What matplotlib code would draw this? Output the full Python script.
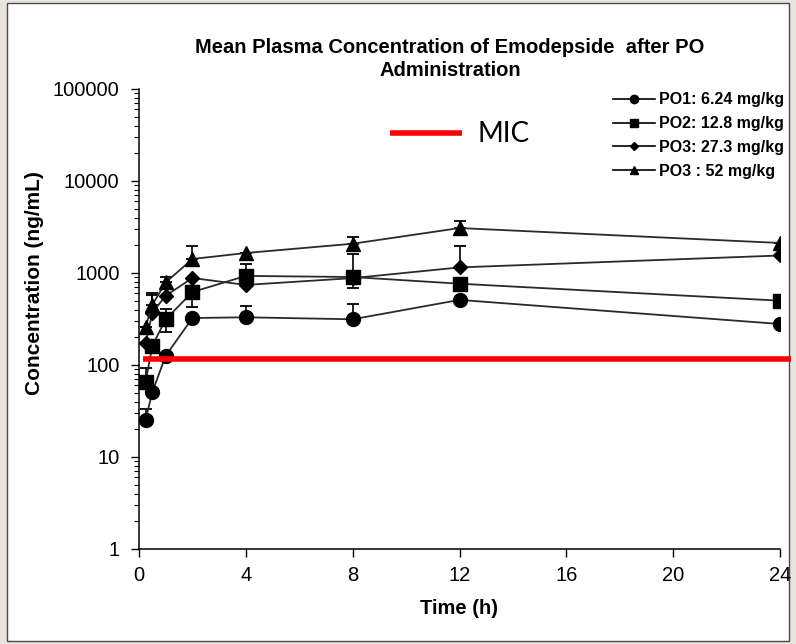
import matplotlib
matplotlib.use("Agg")
import matplotlib.pyplot as plt
from matplotlib.patches import Rectangle
from matplotlib.lines import Line2D
import numpy as np

plt.rcParams['font.family'] = ['Liberation Sans', 'DejaVu Sans']

# ---------------- data ----------------
time_h = [0.25, 0.5, 1, 2, 4, 8, 12, 24]

po1_mean = [25.5, 51, 126, 324, 330, 314, 510, 279]
po1_err_lo = [0, 0, 0, 0, 0, 0, 0, 0]
po1_err_hi = [7.5, 0, 0, 0, 110, 150, 0, 0]

po2_mean = [66, 162, 314, 621, 930, 904, 765, 500]
po2_err_lo = [0, 0, 86, 191, 0, 214, 0, 0]
po2_err_hi = [26, 0, 96, 0, 330, 686, 0, 0]

po3_mean = [172, 372, 566, 882, 742, 880, 1150, 1550]
po3_err_lo = [0, 0, 0, 0, 0, 0, 0, 0]
po3_err_hi = [0, 203, 0, 0, 0, 0, 830, 0]

po4_mean = [262, 450, 790, 1420, 1650, 2080, 3080, 2120]
po4_err_lo = [0, 0, 0, 0, 0, 0, 0, 0]
po4_err_hi = [0, 150, 120, 535, 0, 370, 560, 0]

series_labels = ["PO1: 6.24 mg/kg", "PO2: 12.8 mg/kg", "PO3: 27.3 mg/kg", "PO3 : 52 mg/kg"]
mic_value = 115
mic_label = "MIC"
title = "Mean Plasma Concentration of Emodepside  after PO\nAdministration"
x_label = "Time (h)"
y_label = "Concentration (ng/mL)"
x_ticks = [0, 4, 8, 12, 16, 20, 24]
y_ticks = [1, 10, 100, 1000, 10000, 100000]

# ---------------- figure ----------------
W, H = 796, 644
fig = plt.figure(figsize=(W / 100, H / 100), dpi=100)
fig.patch.set_facecolor('#e7e3dd')
fig.patches.append(Rectangle((7 / W, 3 / H), (789 - 7) / W, (641 - 3) / H,
                             transform=fig.transFigure, facecolor='white',
                             edgecolor='#4a4a4a', linewidth=1.0, zorder=-10))

ax = fig.add_axes([139 / W, 1 - 549 / H, (780 - 139) / W, (549 - 89) / H])
ax.set_zorder(2)
ax.set_facecolor('none')
ax.set_yscale('log')
ax.set_xlim(0, 24)
ax.set_ylim(1, 100000)
for s in ['top', 'right']:
    ax.spines[s].set_visible(False)
for s in ['left', 'bottom']:
    ax.spines[s].set_linewidth(1.1)

series = [
    (po1_mean, po1_err_lo, po1_err_hi, 'o', 10),
    (po2_mean, po2_err_lo, po2_err_hi, 's', 9.5),
    (po3_mean, po3_err_lo, po3_err_hi, 'D', 7.5),
    (po4_mean, po4_err_lo, po4_err_hi, '^', 10),
]
handles = []
for (m, lo, hi, mk, ms), lab in zip(series, series_labels):
    ax.errorbar(time_h, m, yerr=[lo, hi], fmt='none', ecolor='black',
                elinewidth=1.2, capsize=4.5, capthick=1.3, zorder=3)
    ax.plot(time_h, m, color='#2a2a2a', lw=1.3, marker=mk, ms=ms,
            mfc='black', mec='black', zorder=4)
    handles.append(Line2D([0], [0], color='black', lw=1.2, marker=mk,
                          ms=ms * 0.6, mfc='black', mec='black'))

# MIC line
ax.plot([0.15, 24.4], [mic_value, mic_value], color='#ff0000', lw=4,
        solid_capstyle='butt', clip_on=False, zorder=5)

ax.set_xticks(x_ticks)
ax.set_xticklabels([str(t) for t in x_ticks])
ax.set_yticks(y_ticks)
ax.set_yticklabels([str(t) for t in y_ticks])
ax.tick_params(axis='both', which='major', direction='out', length=6,
               width=1.0, labelsize=14.5, colors='black')
ax.tick_params(axis='y', which='minor', direction='out', length=3.5, width=0.8)
ax.tick_params(axis='y', which='major', pad=8)
ax.tick_params(axis='x', pad=6)

ax.set_xlabel(x_label, fontsize=14.5, fontweight='bold', labelpad=10)
fig.text(35 / W, 1 - 283 / H, y_label, rotation=90, ha='center', va='center',
         fontsize=15, fontweight='bold')

fig.text(450 / W, 1 - 59 / H, title, ha='center', va='center',
         fontsize=14.5, fontweight='bold', linespacing=1.3)

# MIC legend entry
fig.add_artist(Line2D([390 / W, 462 / W], [1 - 133 / H, 1 - 133 / H],
                      transform=fig.transFigure, color='#ff0000', lw=4,
                      solid_capstyle='butt'))
fig.text(477 / W, 1 - 134 / H, mic_label, ha='left', va='center',
         fontsize=20, family=['Lato', 'DejaVu Sans'])

leg = ax.legend(handles, series_labels, loc='upper left',
                bbox_to_anchor=(599 / W, 1 - 78 / H), bbox_transform=fig.transFigure,
                frameon=False, handlelength=2.6, handletextpad=0.25,
                labelspacing=0.55, prop={'weight': 'bold', 'size': 11.5})

fig.savefig('out.png', dpi=100, facecolor=fig.get_facecolor())
